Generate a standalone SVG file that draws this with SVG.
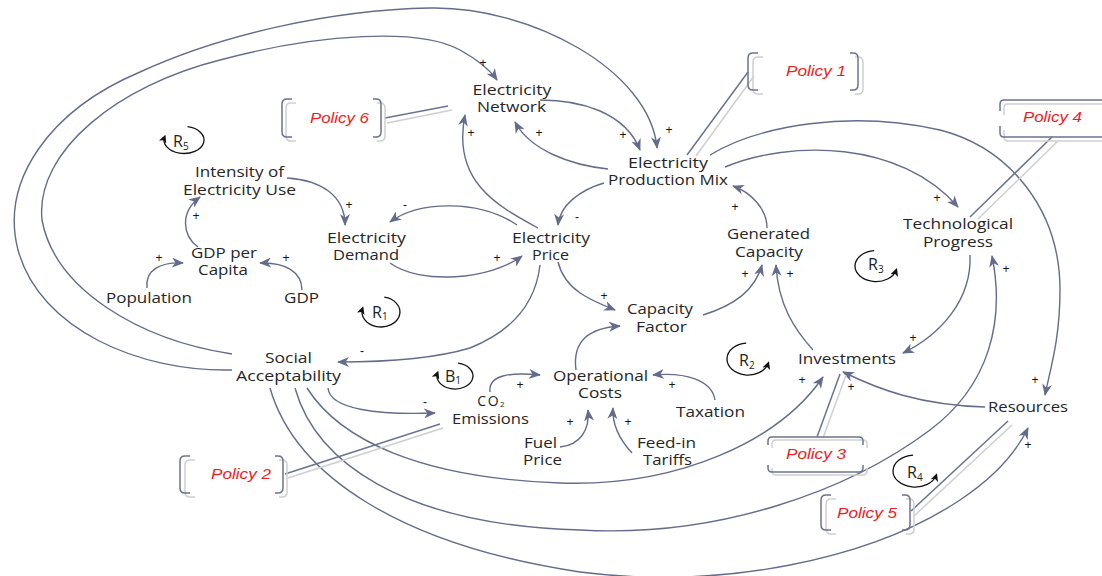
<svg xmlns="http://www.w3.org/2000/svg" width="1102" height="576" viewBox="0 0 1102 576">
<defs>
<style>
.n text{font-family:"Open Sans","Liberation Sans",sans-serif;font-size:14px;fill:#262626;text-anchor:middle}
.c path{fill:none;stroke:#656c8b;stroke-width:1.4}
.s{font-family:"Liberation Sans",Arial,sans-serif;font-size:12px;fill:#111;text-anchor:middle}
.p text{font-family:"Liberation Sans",Arial,sans-serif;font-style:italic;font-size:15px;fill:#ee1c24;text-anchor:middle}
.pd{fill:none;stroke:#6c7391;stroke-width:1.5}
.pl{fill:none;stroke:#cfcfcf;stroke-width:1.5}
.lp path{fill:none;stroke:#111;stroke-width:1.3}
.lp text{font-family:"Open Sans","Liberation Sans",sans-serif;font-size:16px;fill:#222}
</style>
<marker id="ah" viewBox="0 0 12 10" refX="11" refY="5" markerWidth="12" markerHeight="10" markerUnits="userSpaceOnUse" orient="auto"><path d="M0,0 L12,5 L0,10 L3.5,5 z" fill="#656c8b"/></marker>
<marker id="lh" viewBox="0 0 8 8" refX="6" refY="4" markerWidth="8" markerHeight="8" markerUnits="userSpaceOnUse" orient="auto"><path d="M0,0 L8,4 L0,8 L2,4 z" fill="#111"/></marker>
</defs>
<rect width="1102" height="576" fill="#fff"/>

<g id="connectors" class="c">
<path marker-end="url(#ah)" d="M232,370 C140,372 40,330 18,250 C0,180 50,110 140,72 C220,35 330,10 430,8 C530,6 650,70 657,148"/>
<path marker-end="url(#ah)" d="M232,354 C140,340 55,290 42,220 C35,150 120,85 220,60 C320,33 420,28 460,50 C478,60 490,70 497,80"/>
<path marker-end="url(#ah)" d="M540,100 C580,100 625,112 640,150"/>
<path marker-end="url(#ah)" d="M608,169 C570,165 530,150 515,122"/>
<path marker-end="url(#ah)" d="M538,228 C495,205 452,180 465,115"/>
<path marker-end="url(#ah)" d="M604,183 C580,190 560,205 558,225"/>
<path marker-end="url(#ah)" d="M517,225 C480,200 420,200 390,222"/>
<path marker-end="url(#ah)" d="M390,263 C420,285 490,280 522,256"/>
<path marker-end="url(#ah)" d="M287,178 C320,180 345,195 345,225"/>
<path marker-end="url(#ah)" d="M198,247 C182,235 180,212 200,197"/>
<path marker-end="url(#ah)" d="M147,288 C145,270 160,262 183,263"/>
<path marker-end="url(#ah)" d="M302,290 C302,272 285,262 260,263"/>
<path marker-end="url(#ah)" d="M540,265 C536,300 515,330 470,348 C430,360 380,362 338,362"/>
<path marker-end="url(#ah)" d="M558,262 C565,290 590,300 615,310"/>
<path marker-end="url(#ah)" d="M576,370 C572,340 590,328 620,326"/>
<path marker-end="url(#ah)" d="M703,315 C735,305 755,290 762,265"/>
<path marker-end="url(#ah)" d="M813,350 C795,330 778,305 776,265"/>
<path marker-end="url(#ah)" d="M767,228 C767,208 750,192 733,186"/>
<path marker-end="url(#ah)" d="M725,167 C790,140 900,140 958,207"/>
<path marker-end="url(#ah)" d="M710,155 C760,125 850,110 940,130 C1010,148 1060,210 1060,290 C1060,340 1050,370 1045,395"/>
<path marker-end="url(#ah)" d="M970,255 C972,300 940,335 903,353"/>
<path marker-end="url(#ah)" d="M307,388 C340,440 420,478 560,483 C680,487 780,440 823,377"/>
<path marker-end="url(#ah)" d="M295,388 C315,460 400,525 580,530 C720,538 850,490 930,430 C990,385 1005,320 992,256"/>
<path marker-end="url(#ah)" d="M270,388 C295,475 400,545 580,572 C720,590 870,560 960,500 C990,480 1015,455 1028,428"/>
<path marker-end="url(#ah)" d="M985,407 C920,405 880,390 843,372"/>
<path marker-end="url(#ah)" d="M328,388 C330,410 380,415 435,413"/>
<path marker-end="url(#ah)" d="M490,392 C488,375 510,372 540,375"/>
<path marker-end="url(#ah)" d="M560,447 C580,445 590,430 588,410"/>
<path marker-end="url(#ah)" d="M632,453 C620,440 612,425 613,408"/>
<path marker-end="url(#ah)" d="M715,400 C712,380 685,372 653,375"/>
<g id="signs" opacity="0.99">
<text class="s" x="483" y="67">+</text>
<text class="s" x="669" y="134">+</text>
<text class="s" x="623" y="139">+</text>
<text class="s" x="539" y="137">+</text>
<text class="s" x="471" y="137">+</text>
<text class="s" x="577" y="221">-</text>
<text class="s" x="405" y="209">-</text>
<text class="s" x="349" y="209">+</text>
<text class="s" x="497" y="262">+</text>
<text class="s" x="196" y="220">+</text>
<text class="s" x="159" y="262">+</text>
<text class="s" x="286" y="262">+</text>
<text class="s" x="362" y="355">-</text>
<text class="s" x="604" y="300">+</text>
<text class="s" x="745" y="278">+</text>
<text class="s" x="790" y="278">+</text>
<text class="s" x="735" y="211">+</text>
<text class="s" x="937" y="202">+</text>
<text class="s" x="1035" y="384">+</text>
<text class="s" x="913" y="342">+</text>
<text class="s" x="1006" y="273">+</text>
<text class="s" x="802" y="384">+</text>
<text class="s" x="851" y="391">+</text>
<text class="s" x="1028" y="449">+</text>
<text class="s" x="425" y="406">-</text>
<text class="s" x="520" y="389">+</text>
<text class="s" x="570" y="426">+</text>
<text class="s" x="628" y="426">+</text>
<text class="s" x="672" y="389">+</text>
</g>
<g id="policy-links">
<line class="pl" x1="387" y1="123" x2="452" y2="110"/>
<line class="pd" x1="385" y1="118" x2="448" y2="106"/>
<line class="pl" x1="754" y1="76" x2="696" y2="156"/>
<line class="pd" x1="748" y1="72" x2="687" y2="155"/>
<line class="pl" x1="1058" y1="141" x2="978" y2="219"/>
<line class="pd" x1="1052" y1="137" x2="970" y2="217"/>
<line class="pl" x1="823" y1="438" x2="846" y2="375"/>
<line class="pd" x1="817" y1="437" x2="840" y2="374"/>
<line class="pl" x1="288" y1="478" x2="443" y2="428"/>
<line class="pd" x1="285" y1="474" x2="440" y2="424"/>
<line class="pl" x1="914" y1="516" x2="1012" y2="425"/>
<line class="pd" x1="911" y1="511" x2="1008" y2="421"/>
</g>
</g>

<g id="n-electricity-network" class="n"><text x="512" y="95" textLength="79" lengthAdjust="spacingAndGlyphs">Electricity</text><text x="511.5" y="112" textLength="69" lengthAdjust="spacingAndGlyphs">Network</text></g>
<g id="n-production-mix" class="n"><text x="668" y="167.5" textLength="80" lengthAdjust="spacingAndGlyphs">Electricity</text><text x="668" y="184.5" textLength="120" lengthAdjust="spacingAndGlyphs">Production Mix</text></g>
<g id="n-intensity" class="n"><text x="239.5" y="177" textLength="89" lengthAdjust="spacingAndGlyphs">Intensity of</text><text x="239.5" y="195" textLength="113" lengthAdjust="spacingAndGlyphs">Electricity Use</text></g>
<g id="n-demand" class="n"><text x="366.5" y="242.5" textLength="79" lengthAdjust="spacingAndGlyphs">Electricity</text><text x="366" y="259.5" textLength="66" lengthAdjust="spacingAndGlyphs">Demand</text></g>
<g id="n-price" class="n"><text x="551" y="243" textLength="78" lengthAdjust="spacingAndGlyphs">Electricity</text><text x="550.5" y="260" textLength="37" lengthAdjust="spacingAndGlyphs">Price</text></g>
<g id="n-gdp-per-capita" class="n"><text x="224" y="258" textLength="66" lengthAdjust="spacingAndGlyphs">GDP per</text><text x="223" y="275" textLength="50" lengthAdjust="spacingAndGlyphs">Capita</text></g>
<g id="n-population" class="n"><text x="149" y="303" textLength="86" lengthAdjust="spacingAndGlyphs">Population</text></g>
<g id="n-gdp" class="n"><text x="301.5" y="303" textLength="35" lengthAdjust="spacingAndGlyphs">GDP</text></g>
<g id="n-capacity-factor" class="n"><text x="660" y="314" textLength="66" lengthAdjust="spacingAndGlyphs">Capacity</text><text x="661.5" y="332" textLength="51" lengthAdjust="spacingAndGlyphs">Factor</text></g>
<g id="n-generated-capacity" class="n"><text x="768.5" y="239" textLength="83" lengthAdjust="spacingAndGlyphs">Generated</text><text x="769" y="257" textLength="68" lengthAdjust="spacingAndGlyphs">Capacity</text></g>
<g id="n-tech-progress" class="n"><text x="958" y="229" textLength="110" lengthAdjust="spacingAndGlyphs">Technological</text><text x="958" y="247" textLength="70" lengthAdjust="spacingAndGlyphs">Progress</text></g>
<g id="n-social-acceptability" class="n"><text x="288.5" y="363" textLength="47" lengthAdjust="spacingAndGlyphs">Social</text><text x="288.5" y="381" textLength="105" lengthAdjust="spacingAndGlyphs">Acceptability</text></g>
<g id="n-investments" class="n"><text x="847" y="364" textLength="98" lengthAdjust="spacingAndGlyphs">Investments</text></g>
<g id="n-operational-costs" class="n"><text x="600.5" y="381" textLength="95" lengthAdjust="spacingAndGlyphs">Operational</text><text x="600" y="398" textLength="44" lengthAdjust="spacingAndGlyphs">Costs</text></g>
<g id="n-co2-emissions" class="n"><text x="491" y="405.5" letter-spacing="1.5">CO<tspan font-size="8" dy="1.5" letter-spacing="0">2</tspan></text><text x="490.5" y="424" textLength="77" lengthAdjust="spacingAndGlyphs">Emissions</text></g>
<g id="n-taxation" class="n"><text x="710.5" y="417" textLength="69" lengthAdjust="spacingAndGlyphs">Taxation</text></g>
<g id="n-fuel-price" class="n"><text x="540.5" y="448" textLength="33" lengthAdjust="spacingAndGlyphs">Fuel</text><text x="542.5" y="465" textLength="39" lengthAdjust="spacingAndGlyphs">Price</text></g>
<g id="n-feed-in-tariffs" class="n"><text x="666.5" y="448" textLength="59" lengthAdjust="spacingAndGlyphs">Feed-in</text><text x="667.5" y="465" textLength="49" lengthAdjust="spacingAndGlyphs">Tariffs</text></g>
<g id="n-resources" class="n"><text x="1028" y="412" textLength="80" lengthAdjust="spacingAndGlyphs">Resources</text></g>

<g id="policy-6" class="p">
<path class="pl" d="M296,103 H291 Q286,103 286,108 V136 Q286,141 291,141 H296 M377,103 H380 Q385,103 385,108 V136 Q385,141 380,141 H377"/>
<path class="pd" d="M292,99 H287 Q282,99 282,104 V132 Q282,137 287,137 H292 M373,99 H376 Q381,99 381,104 V132 Q381,137 376,137 H373"/>
<text x="339.5" y="123" textLength="59" lengthAdjust="spacingAndGlyphs">Policy 6</text>
</g>
<g id="policy-1" class="p">
<path class="pl" d="M763,57 H758 Q753,57 753,62 V89 Q753,94 758,94 H763 M855,57 H858 Q863,57 863,62 V89 Q863,94 858,94 H855"/>
<path class="pd" d="M758,53 H753 Q748,53 748,58 V85 Q748,90 753,90 H758 M850,53 H853 Q858,53 858,58 V85 Q858,90 853,90 H850"/>
<text x="816" y="76" textLength="60" lengthAdjust="spacingAndGlyphs">Policy 1</text>
</g>
<g id="policy-4" class="p">
<path class="pl" d="M1004,115 V108 Q1004,104 1008,104 H1102 M1004,130 V137 Q1004,141 1008,141 H1102"/>
<path class="pd" d="M1000,111 V104 Q1000,100 1004,100 H1102 M1000,126 V133 Q1000,137 1004,137 H1102"/>
<text x="1052.5" y="122" textLength="59" lengthAdjust="spacingAndGlyphs">Policy 4</text>
</g>
<g id="policy-3" class="p">
<path class="pl" d="M772,448 V444 Q772,440 776,440 H863 Q867,440 867,444 V448 M772,468 V471 Q772,475 776,475 H863 Q867,475 867,471 V468"/>
<path class="pd" d="M768,445 V441 Q768,437 772,437 H859 Q863,437 863,441 V445 M768,465 V468 Q768,472 772,472 H859 Q863,472 863,468 V465"/>
<text x="816" y="459" textLength="60" lengthAdjust="spacingAndGlyphs">Policy 3</text>
</g>
<g id="policy-2" class="p">
<path class="pl" d="M195,460 H190 Q185,460 185,465 V492 Q185,497 190,497 H195 M279,460 H282 Q287,460 287,465 V492 Q287,497 282,497 H279"/>
<path class="pd" d="M190,456 H185 Q180,456 180,461 V488 Q180,493 185,493 H190 M275,456 H278 Q283,456 283,461 V488 Q283,493 278,493 H275"/>
<text x="241" y="479" textLength="60" lengthAdjust="spacingAndGlyphs">Policy 2</text>
</g>
<g id="policy-5" class="p">
<path class="pl" d="M836,499 H831 Q826,499 826,504 V529 Q826,534 831,534 H836 M906,499 H909 Q914,499 914,504 V529 Q914,534 909,534 H906"/>
<path class="pd" d="M831,495 H826 Q821,495 821,500 V525 Q821,530 826,530 H831 M902,495 H905 Q910,495 910,500 V525 Q910,530 905,530 H902"/>
<text x="867" y="518" textLength="60" lengthAdjust="spacingAndGlyphs">Policy 5</text>
</g>

<g id="loop-r5" class="lp"><path marker-end="url(#lh)" d="M187.5,126.7 A20,13.5 0 1 1 164.7,136.5"/><text x="173" y="147">R<tspan font-size="10" dy="3">5</tspan></text></g>
<g id="loop-r1" class="lp"><path marker-end="url(#lh)" d="M384.3,297.2 A19,15 0 1 1 362.6,308.1"/><text x="372" y="318">R<tspan font-size="10" dy="2">1</tspan></text></g>
<g id="loop-b1" class="lp"><path marker-end="url(#lh)" d="M458.1,363.2 A18,13 0 1 1 437.6,372.6"/><text x="445" y="382">B<tspan font-size="10" dy="2">1</tspan></text></g>
<g id="loop-r2" class="lp"><path marker-end="url(#lh)" d="M746.2,343.1 A21,16 0 1 0 768.3,363.1"/><text x="739" y="366">R<tspan font-size="10" dy="3">2</tspan></text></g>
<g id="loop-r3" class="lp"><path marker-end="url(#lh)" d="M874.2,250.6 A21,15.5 0 1 0 896.3,270"/><text x="868" y="270">R<tspan font-size="10" dy="3">3</tspan></text></g>
<g id="loop-r4" class="lp"><path marker-end="url(#lh)" d="M913.1,455.1 A22,16 0 1 0 936.3,475.1"/><text x="907" y="478">R<tspan font-size="10" dy="3">4</tspan></text></g>
</svg>
